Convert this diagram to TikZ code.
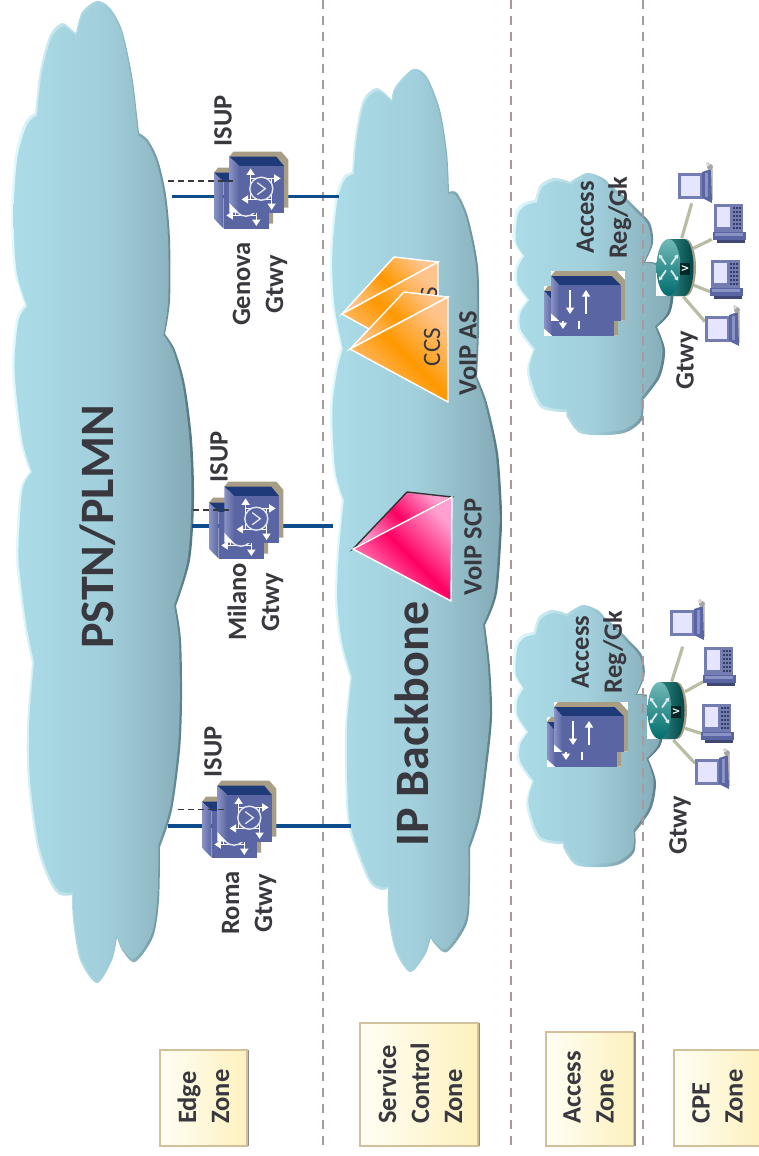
\documentclass[tikz,border=0pt]{standalone}
\usepackage{fontspec}
\setmainfont{Carlito}
\usetikzlibrary{arrows.meta}
\definecolor{ink}{HTML}{38383E}
\definecolor{cubeface}{HTML}{5A66A3}
\definecolor{cubetop}{HTML}{1E3A78}
\definecolor{cubeside}{HTML}{8A93C4}
\definecolor{tan}{HTML}{A79E85}
\definecolor{linkblue}{HTML}{0F4C8E}
\definecolor{dashgray}{HTML}{A89A98}
\definecolor{spoke}{HTML}{B9BDA4}
\definecolor{edgelight}{HTML}{E2FAFD}
\definecolor{edgedark}{HTML}{55757F}
\definecolor{faceL}{HTML}{ABDCE8}
\definecolor{faceM}{HTML}{A1CFDB}
\definecolor{faceR}{HTML}{84ABB7}
\definecolor{zoneL}{HTML}{FFFEF4}
\definecolor{zoneR}{HTML}{FDF1BE}
\definecolor{zoneB}{HTML}{D2C09A}
\definecolor{orgL}{HTML}{FFC48C}
\definecolor{orgM}{HTML}{FF9800}
\definecolor{pnkL}{HTML}{FFA0D0}
\definecolor{pnkM}{HTML}{FF0062}
\newcommand\pstnoutline{plot[smooth] coordinates {(76,33)(82,12)(97,1)(110,8)(122,30)(132,75)(137,115)(139,133)}
 -- plot[smooth] coordinates {(139,133)(148,140)(158,160)(166,195)(170,240)(170,300)(165,334)}
 -- plot[smooth] coordinates {(165,334)(175,350)(185,385)(192,440)(194,500)(190,560)(176,606)}
 -- plot[smooth] coordinates {(176,606)(181,640)(182,700)(180,750)(172,810)(160,847)}
 -- plot[smooth] coordinates {(160,847)(159,900)(153,937)(135,962)(122,950)(117,937)}
 -- plot[smooth] coordinates {(117,937)(112,960)(97,983)(80,960)(73,920)(72,895)}
 -- plot[smooth] coordinates {(72,895)(60,895)(50,883)(37,847)(28,783)(27,727)(32,663)}
 -- plot[smooth] coordinates {(32,663)(25,630)(18,580)(16,550)(20,490)(30,472)}
 -- plot[smooth] coordinates {(30,472)(20,440)(12,370)(16,320)(25,305)}
 -- plot[smooth] coordinates {(25,305)(14,270)(11,210)(15,155)(25,122)(35,113)}
 -- plot[smooth] coordinates {(35,113)(40,70)(50,35)(62,23)(72,30)(76,33)} -- cycle}
\newcommand\ipoutline{plot[smooth] coordinates {(391.7,100)(395,87)(413,69)(427,77)(440,110)(447,153)(449,192)}
 -- plot[smooth] coordinates {(449,192)(457,193)(468,217)(478,267)(479,327)(477,377)}
 -- plot[smooth] coordinates {(477,377)(487,403)(498,453)(502,510)(502,527)(497,593)(485,625)}
 -- plot[smooth] coordinates {(485,625)(490,667)(492,717)(487,767)(480,817)(470,848)}
 -- plot[smooth] coordinates {(470,848)(470,883)(467,923)(447,952)(433,942)(431,937)}
 -- plot[smooth] coordinates {(431,937)(425,955)(410,972)(395,950)(388,913)(388,888)}
 -- plot[smooth] coordinates {(388,888)(382,890)(370,883)(357,853)(347,817)(345,733)(350,678)}
 -- plot[smooth] coordinates {(350,678)(340,643)(335,600)(337,550)(342,500)}
 -- plot[smooth] coordinates {(342,500)(333,470)(330,410)(335,370)(341,348)}
 -- plot[smooth] coordinates {(341,348)(332,303)(330,253)(335,200)(343,177)(352,172)}
 -- plot[smooth] coordinates {(352,172)(355,137)(363,100)(377,88)(391.7,100)} -- cycle}
\newcommand\accessoutline{plot[smooth] coordinates {(535,200)(540,185)(553,178)(565,180)(570,182)}
 -- plot[smooth] coordinates {(570,182)(587,173)(603,178)(610,185)}
 -- plot[smooth] coordinates {(610,185)(625,197)(638,210)}
 -- plot[smooth] coordinates {(638,210)(650,223)(653,243)(645,262)}
 -- plot[smooth] coordinates {(645,262)(660,265)(673,290)(670,313)(657,327)}
 -- plot[smooth] coordinates {(657,327)(665,350)(660,377)(643,400)}
 -- plot[smooth] coordinates {(643,400)(642,420)(627,432)(607,435)(580,433)(567,417)(567,412)}
 -- plot[smooth] coordinates {(567,412)(540,407)(527,373)(533,350)}
 -- plot[smooth] coordinates {(533,350)(518,330)(518,313)(527,300)}
 -- plot[smooth] coordinates {(527,300)(515,283)(515,267)(522,255)}
 -- plot[smooth] coordinates {(522,255)(513,240)(515,213)(523,203)(535,200)} -- cycle}
% outline, centre x, centre y, xscale, yscale
\newcommand\bevelcloud[5]{%
 \shade[left color=edgelight,right color=edgedark,middle color=faceM] #1;
 \begin{scope}[shift={(#2,#3)},xscale=#4,yscale=#5,shift={(-#2,-#3)}]
  \shade[left color=faceL,right color=faceR,middle color=faceM] #1;
 \end{scope}}
\tikzset{
 lab/.style={font=\bfseries\fontsize{26.5}{33}\selectfont,text=ink,inner sep=0pt,rotate=90,align=center},
 zonelab/.style={lab,anchor=west,align=left},
 biglab/.style={font=\bfseries\fontsize{48}{50}\selectfont,text=ink,inner sep=0pt,rotate=90},
 ccslab/.style={font=\fontsize{25}{30}\selectfont,text=ink,inner sep=0pt,rotate=90},
 zonebox/.style={draw=zoneB,line width=1.5pt,left color=zoneL,right color=zoneR,inner sep=0pt},
 zoneedge/.style={fill=black!45,draw=none},
 zoneline/.style={draw=dashgray,line width=1.5pt,dash pattern=on 9pt off 7pt},
 trunk/.style={draw=linkblue,line width=3.2pt},
 signal/.style={draw=ink,line width=1.2pt,dash pattern=on 6pt off 4pt},
 spokeline/.style={draw=spoke,line width=3.2pt},
 whitearrow/.style={draw=white,line width=1.5pt,-{Triangle[length=6.5pt,width=8pt]}},
 orgface/.style={draw=white,line width=1.4pt,top color=orgL,bottom color=orgL,middle color=orgM,shading angle=-45},
 pnkface/.style={draw=white,line width=1.4pt,top color=pnkL,bottom color=pnkL,middle color=pnkM,shading angle=-45},
 cubefull/.pic={
  \fill[tan] (4,-5)--(52,-5)--(59,3)--(59,51)--(54.7,51)--(54.7,10)--(0,0)--cycle;
  \fill[cubetop] (0,0)--(47,0)--(54.7,9.3)--(9.7,9.3)--cycle;
  \fill[cubeface] (9.7,9.3) rectangle (54.7,56);
  \shade[left color=cubeside,right color=cubeface] (0,0)--(9.7,9.3)--(9.7,56)--(0,46)--cycle;
  \draw[whitearrow] (21.3,21.7)--(51.3,21.7);
  \draw[whitearrow] (42.3,42.7)--(12.3,42.7);
  \draw[whitearrow] (21.3,42.7)--(21.3,11.7);
  \draw[whitearrow] (42.3,21.7)--(42.3,53.3);
  \draw[white!85!cubeface,line width=1.4pt,fill=cubeface] (32,32) circle (11.5);
  \draw[white!85!cubeface,line width=1.3pt] (28,26)--(36,32)--(28,38);
 },
 gwpic/.pic={
  \pic at (-15.3,16) {cubefull};
  \fill[white] (0,46)--(9.7,56)--(0,56)--cycle;
  \pic at (0,0) {cubefull};
 },
 srvcube/.pic={
  \fill[white] (0,0) rectangle (74,49.7);
  \fill[tan] (4,0)--(65.7,0)--(74,9)--(74,49.7)--(69.7,49.7)--(69.7,14)--(0,5)--cycle;
  \fill[cubetop] (0,5)--(60.7,5)--(69.7,14)--(8.3,14)--cycle;
  \fill[cubeface] (8.3,14) rectangle (69.7,49.7);
  \shade[left color=cubeside,right color=cubeface] (0,5)--(8.3,14)--(8.3,49.7)--(0,42.3)--cycle;
  \draw[whitearrow] (19,19)--(19,43);
  \draw[whitearrow] (35,43)--(35,19);
 },
 srvpic/.pic={
  \pic at (-7,15) {srvcube};
  \fill[white] (0,42.3)--(8.3,49.7)--(0,49.7)--cycle;
  \pic at (0,0) {srvcube};
 },
 routerpic/.pic={
  \fill[white] (0,0) rectangle (16,57);
  \fill[tan] (14,0)--(30,0) .. controls (36,0) and (40,15) .. (40,28.5) .. controls (40,42) and (36,57) .. (30,57)--(14,57)--cycle;
  \shade[left color=black!20!teal!80!white,right color=black!45!teal] (12,0)--(28,0) .. controls (34,0) and (37.5,15) .. (37.5,28.5) .. controls (37.5,42) and (34,57) .. (28,57)--(12,57)--cycle;
  \shade[top color=teal!55!white,bottom color=black!15!teal] (12.5,28.5) ellipse (12 and 28.5);
  \foreach \ang in {30,150,210,330}{
   \draw[white!85!teal,line width=1.8pt,-{Triangle[length=3.5pt,width=4.5pt]}] (12.5,28.5)++(\ang:3 and 6)--++(\ang:8 and 20);}
  \fill[black!70!teal] (24,24) rectangle (34,36);
  \node[text=white,font=\bfseries\fontsize{10}{10}\selectfont,rotate=90,inner sep=0pt] at (29,30) {V};
 },
 pcpic/.pic={
  \fill[tan!60!white] (30,-1) rectangle (35,30);
  \fill[cubeface!85!white] (0,3) rectangle (25,29);
  \fill[white!90!blue] (3,6) rectangle (22,26);
  \fill[cubeface] (24,2)--(33,-1)--(34,33)--(24,28)--cycle;
  \fill[cubeside] (27,3) rectangle (30,27);
  \fill[black!35] (32,-3) circle (3);
  \fill[white!70!gray] (30,-6) circle (2);
 },
 phonepic/.pic={
  \fill[cubeface!85!white] (1,2) rectangle (30,30);
  \fill[white!90!blue] (4,5) rectangle (17,25);
  \foreach \px in {20,23,26}{\foreach \py in {5,9,13,17,21,25}{\fill[black!40!cubeface] (\px,\py) rectangle +(2,2);}}
  \fill[cubeface] (0,30) rectangle (33,38);
  \fill[cubeside] (2,31) rectangle (30,34);
  \fill[black!30!cubeface] (4,38) rectangle (32,41);
 },
}
\begin{document}
\begin{tikzpicture}[x=1pt,y=-1pt]
\useasboundingbox (0,0) rectangle (759,1156);
\fill[white] (0,0) rectangle (759,1156);

% zone separators
\coordinate (sepA0) at (323,0); \coordinate (sepA1) at (323,1146);
\coordinate (sepB0) at (511,0); \coordinate (sepB1) at (511,1146);
\coordinate (sepC0) at (643,0); \coordinate (sepC1) at (643,1146);
\draw[zoneline] (sepA0)--(sepA1);
\draw[zoneline] (sepB0)--(sepB1);

% clouds
\bevelcloud{\pstnoutline}{103}{490}{.972}{.993}
\bevelcloud{\ipoutline}{412}{510}{.972}{.993}
\bevelcloud{\accessoutline}{593}{303}{.965}{.975}
\begin{scope}[shift={(30.8,432)},xscale=.94]
\bevelcloud{\accessoutline}{593}{303}{.965}{.975}
\end{scope}
\draw[zoneline] (sepC0)--(sepC1);

% gateway anchors and connectors
\coordinate (genT0) at (172,196.7); \coordinate (genT1) at (339,196.7);
\coordinate (milT0) at (192,526); \coordinate (milT1) at (333,526);
\coordinate (romT0) at (168,826); \coordinate (romT1) at (351,826);
\coordinate (genS0) at (168,181); \coordinate (genS1) at (233,181);
\coordinate (milS0) at (193,510); \coordinate (milS1) at (229,510);
\coordinate (romS0) at (178,809.3); \coordinate (romS1) at (224,809.3);
\draw[trunk] (genT0)--(genT1);
\draw[trunk] (milT0)--(milT1);
\draw[trunk] (romT0)--(romT1);
\pic at (229.3,156.7) {gwpic};
\pic at (224.3,486.7) {gwpic};
\pic at (217.3,785.7) {gwpic};
\draw[signal] (genS0)--(genS1);
\draw[signal] (milS0)--(milS1);
\draw[signal] (romS0)--(romS1);

% gateway labels
\node[lab] (isupG) at (223,121) {ISUP};
\node[lab] (isupM) at (219,457) {ISUP};
\node[lab] (isupR) at (213,752) {ISUP};
\node[lab] (genL) at (260,284) {Genova\\Gtwy};
\node[lab] (milL) at (255.5,602) {Milano\\Gtwy};
\node[lab] (romL) at (249,903) {Roma\\Gtwy};

% big labels
\node[biglab] (pstnL) at (98,527) {PSTN/PLMN};
\node[biglab] (ipL) at (412,724) {IP Backbone};

% orange pyramids
\shade[orgface] (342,314)--(394,257)--(438,262)--cycle;
\shade[orgface] (342,314)--(438,262)--(438,367)--cycle;
\node[ccslab] (ccsA) at (429,306) {CCS};
\shade[orgface] (350,349)--(404,292)--(448,297)--cycle;
\shade[orgface] (350,349)--(448,297)--(448,402)--cycle;
\node[ccslab] (ccsB) at (432,347) {CCS};
\node[lab] (asL) at (468,353) {VoIP AS};

% pink pyramid
\shade[pnkface,draw=black!80] (353,549)--(407,492)--(452,497)--cycle;
\shade[pnkface] (353,549)--(452,497)--(451,601)--cycle;
\node[lab] (scpL) at (473,547) {VoIP SCP};

% access registrars
\pic at (551,271) {srvpic};
\pic at (554,702) {srvpic};
\node[lab] (regA) at (604,217.5) {Access\\Reg/Gk};
\node[lab] (regB) at (599,652) {Access\\Reg/Gk};

% CPE upper group
\coordinate (rA1) at (681.7,238.3); \coordinate (dA1) at (691.7,203.3);
\coordinate (rA2) at (693.3,248.3); \coordinate (dA2) at (711.7,239.3);
\coordinate (rA3) at (693.3,285); \coordinate (dA3) at (710,291.7);
\coordinate (rA4) at (683.3,296.7); \coordinate (dA4) at (705,321.7);
\draw[spokeline] (rA1)--(dA1);
\draw[spokeline] (rA2)--(dA2);
\draw[spokeline] (rA3)--(dA3);
\draw[spokeline] (rA4)--(dA4);
\pic at (656,239) {routerpic};
\pic at (678,170) {pcpic};
\pic at (713,202) {phonepic};
\pic at (710,258) {phonepic};
\pic at (705,313) {pcpic};
\node[lab] (gtA) at (687,360) {Gtwy};

% CPE lower group
\coordinate (rB1) at (671.7,681.7); \coordinate (dB1) at (682.7,646.7);
\coordinate (rB2) at (685,691.7); \coordinate (dB2) at (703.3,681.7);
\coordinate (rB3) at (685,728.3); \coordinate (dB3) at (701,733.3);
\coordinate (rB4) at (673.3,740); \coordinate (dB4) at (695,763.3);
\draw[spokeline] (rB1)--(dB1);
\draw[spokeline] (rB2)--(dB2);
\draw[spokeline] (rB3)--(dB3);
\draw[spokeline] (rB4)--(dB4);
\pic at (647,682) {routerpic};
\pic at (670,607) {pcpic};
\pic at (703,645) {phonepic};
\pic at (701,702) {phonepic};
\pic at (695,756) {pcpic};
\node[lab] (gtB) at (680,825) {Gtwy};

% zone boxes
\fill[zoneedge] (247,1050) rectangle (249,1146);
\fill[zoneedge] (478,1023) rectangle (480,1146);
\fill[zoneedge] (633.5,1032) rectangle (635.5,1146);
\node[zonebox,minimum width=87pt,minimum height=96pt] (zEdge) at (203.5,1098) {};
\node[zonebox,minimum width=118pt,minimum height=123pt] (zServ) at (419,1084.5) {};
\node[zonebox,minimum width=87.5pt,minimum height=114pt] (zAcc) at (589.7,1089) {};
\node[zonebox,minimum width=87pt,minimum height=96pt] (zCpe) at (717.5,1098) {};
\node[zonelab] (lEdge) at (203.5,1124) {Edge\\Zone};
\node[zonelab] (lServ) at (420,1124) {Service\\Control\\Zone};
\node[zonelab] (lAcc) at (588.5,1124) {Access\\Zone};
\node[zonelab] (lCpe) at (717.5,1124) {CPE\\Zone};
\end{tikzpicture}
\end{document}
